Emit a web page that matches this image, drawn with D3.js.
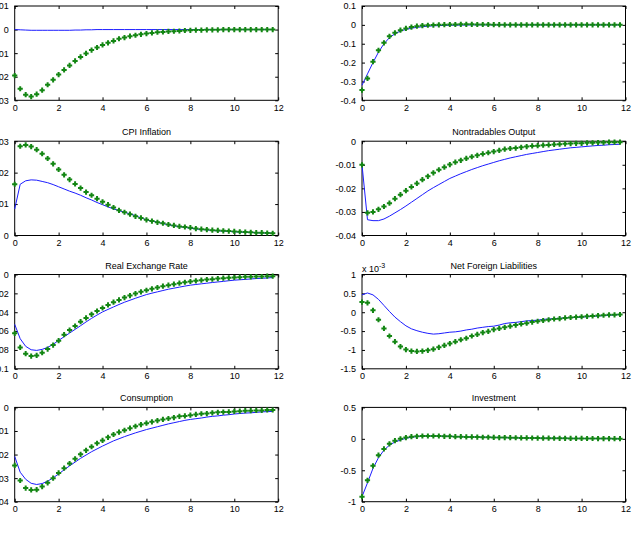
<!DOCTYPE html>
<html>
<head>
<meta charset="utf-8">
<script src="https://cdn.jsdelivr.net/npm/d3@7"></script>
<style>
  body { margin: 0; background: #fff; }
  svg { display: block; font-family: "Liberation Sans", Arial, sans-serif; }
</style>
</head>
<body>
<svg id="chart" width="636" height="535"></svg>
<script>
// quarters after the shock (x axis), step 0.25
var quarters = d3.range(48).map(function(i) { return i * 0.25; });
var xTicks = [0, 2, 4, 6, 8, 10, 12];

// top-left panel (title cut off in the original)
var panel1Blue = [0, -0.0001, -0.0002, -0.0003, -0.0003, -0.0003, -0.0003, -0.0003, -0.0003, -0.0003, -0.0003, -0.0002,
  -0.0002, -0.0001, -0.0001, 0, 0, 0, 0, 0, 0, 0, 0, 0,
  0, 0, 0, 0, 0, 0, 0, 0, 0, 0, 0, 0, 0, 0, 0, 0, 0, 0, 0, 0, 0, 0, 0, 0];
var panel1Green = [-0.0195, -0.0251, -0.0276, -0.0284, -0.0274, -0.0257, -0.0234, -0.0213, -0.0191, -0.0171, -0.0152, -0.0133,
  -0.0116, -0.0101, -0.0087, -0.0076, -0.0065, -0.0056, -0.0048, -0.0039, -0.0034, -0.0028, -0.0024, -0.0020,
  -0.0017, -0.0014, -0.0011, -0.0010, -0.0008, -0.0007, -0.0006, -0.0004, -0.0003, -0.0002, -0.0002, -0.0001,
  -0.0001, -0.0001, 0, 0, 0, 0, 0, 0, 0, 0, 0, 0];

// top-right panel (title cut off in the original)
var panel2Blue = [-0.32, -0.26, -0.20, -0.145, -0.10, -0.068, -0.047, -0.033, -0.024, -0.018, -0.013, -0.010,
  -0.007, -0.005, -0.004, -0.003, -0.002, -0.0015, -0.001, -0.001, 0, 0, 0, 0,
  0, 0, 0, 0, 0, 0, 0, 0, 0, 0, 0, 0, 0, 0, 0, 0, 0, 0, 0, 0, 0, 0, 0, 0];
var panel2Green = [-0.346, -0.284, -0.195, -0.135, -0.095, -0.061, -0.042, -0.028, -0.019, -0.012, -0.007, -0.004,
  -0.002, -0.001, 0, 0.001, 0.002, 0.002, 0.003, 0.003, 0.003, 0.002, 0.002, 0.002,
  0.001, 0.001, 0, 0, 0, 0, 0, 0, 0, 0, 0, 0, 0, 0, 0, 0, 0, 0, 0, 0, 0, 0, 0, 0];

// CPI Inflation
var cpiBlue = [0.0084, 0.0163, 0.0174, 0.0177, 0.0176, 0.0172, 0.0168, 0.0162, 0.0155, 0.0148, 0.0141, 0.0135,
  0.0128, 0.0120, 0.0113, 0.0105, 0.0098, 0.0091, 0.0085, 0.0079, 0.0074, 0.0069, 0.0063, 0.0056,
  0.0050, 0.0046, 0.0042, 0.0038, 0.0034, 0.0031, 0.0028, 0.0026, 0.0023, 0.0021, 0.0019, 0.0018,
  0.0016, 0.0015, 0.0014, 0.0013, 0.0012, 0.0011, 0.0010, 0.0010, 0.0009, 0.0008, 0.0008, 0.0007];
var cpiGreen = [0.0163, 0.0284, 0.0288, 0.0283, 0.0273, 0.0260, 0.0245, 0.0228, 0.0210, 0.0193, 0.0178, 0.0164,
  0.0151, 0.0138, 0.0128, 0.0117, 0.0107, 0.0098, 0.0089, 0.0080, 0.0074, 0.0068, 0.0061, 0.0056,
  0.0050, 0.0046, 0.0042, 0.0039, 0.0035, 0.0032, 0.0029, 0.0027, 0.0025, 0.0022, 0.0020, 0.0019,
  0.0017, 0.0016, 0.0015, 0.0014, 0.0013, 0.0012, 0.0011, 0.0010, 0.0009, 0.0009, 0.0008, 0.0007];

// Nontradables Output
var nontradBlue = [-0.0100, -0.0333, -0.0337, -0.0337, -0.0330, -0.0318, -0.0304, -0.0290, -0.0275, -0.0259, -0.0243, -0.0227,
  -0.0211, -0.0197, -0.0184, -0.0171, -0.0158, -0.0148, -0.0138, -0.0129, -0.0120, -0.0112, -0.0104, -0.0097,
  -0.0090, -0.0083, -0.0077, -0.0071, -0.0066, -0.0061, -0.0056, -0.0052, -0.0048, -0.0044, -0.0040, -0.0037,
  -0.0034, -0.0031, -0.0028, -0.0026, -0.0024, -0.0022, -0.0020, -0.0018, -0.0017, -0.0015, -0.0014, -0.0013];
var nontradGreen = [-0.0100, -0.0304, -0.0300, -0.0289, -0.0277, -0.0263, -0.0244, -0.0227, -0.0210, -0.0194, -0.0179, -0.0163,
  -0.0149, -0.0134, -0.0121, -0.0110, -0.0099, -0.0089, -0.0081, -0.0073, -0.0066, -0.0060, -0.0054, -0.0049,
  -0.0044, -0.0039, -0.0034, -0.0031, -0.0029, -0.0026, -0.0023, -0.0020, -0.0019, -0.0017, -0.0016, -0.0014,
  -0.0013, -0.0011, -0.0010, -0.0009, -0.0009, -0.0007, -0.0007, -0.0006, -0.0006, -0.0004, -0.0004, -0.0004];

// Real Exchange Rate
var rerBlue = [-0.0528, -0.0681, -0.0762, -0.0798, -0.0805, -0.0794, -0.0773, -0.0741, -0.0699, -0.0660, -0.0621, -0.0582,
  -0.0543, -0.0503, -0.0465, -0.0430, -0.0397, -0.0370, -0.0344, -0.0318, -0.0294, -0.0273, -0.0252, -0.0232,
  -0.0213, -0.0198, -0.0184, -0.0170, -0.0156, -0.0145, -0.0134, -0.0123, -0.0113, -0.0106, -0.0099, -0.0092,
  -0.0085, -0.0079, -0.0073, -0.0066, -0.0060, -0.0056, -0.0052, -0.0047, -0.0043, -0.0040, -0.0037, -0.0032];
var rerGreen = [-0.0624, -0.0773, -0.0840, -0.0865, -0.0858, -0.0830, -0.0791, -0.0748, -0.0702, -0.0638, -0.0589, -0.0546,
  -0.0500, -0.0461, -0.0422, -0.0387, -0.0355, -0.0323, -0.0294, -0.0270, -0.0245, -0.0223, -0.0202, -0.0184,
  -0.0167, -0.0152, -0.0138, -0.0124, -0.0113, -0.0103, -0.0092, -0.0082, -0.0074, -0.0067, -0.0060, -0.0053,
  -0.0050, -0.0043, -0.0039, -0.0035, -0.0032, -0.0028, -0.0025, -0.0025, -0.0021, -0.0021, -0.0018, -0.0018];

// Net Foreign Liabilities, in units of 1e-3
var nflBlue = [0.46, 0.51, 0.46, 0.34, 0.18, 0.02, -0.13, -0.25, -0.36, -0.44, -0.49, -0.53,
  -0.56, -0.58, -0.57, -0.55, -0.53, -0.52, -0.50, -0.47, -0.45, -0.42, -0.40, -0.38,
  -0.37, -0.34, -0.30, -0.28, -0.27, -0.25, -0.23, -0.22, -0.21, -0.19, -0.18, -0.17,
  -0.16, -0.15, -0.14, -0.14, -0.13, -0.12, -0.11, -0.10, -0.09, -0.08, -0.07, -0.06];
var nflGreen = [0.27, 0.25, 0.05, -0.20, -0.43, -0.63, -0.78, -0.91, -0.99, -1.03, -1.04, -1.03,
  -1.01, -0.98, -0.93, -0.88, -0.83, -0.78, -0.73, -0.69, -0.63, -0.59, -0.54, -0.51,
  -0.46, -0.43, -0.40, -0.37, -0.34, -0.31, -0.29, -0.26, -0.24, -0.22, -0.20, -0.18,
  -0.17, -0.15, -0.14, -0.13, -0.12, -0.11, -0.10, -0.09, -0.08, -0.07, -0.07, -0.06];

// Consumption
var consBlue = [-0.0208, -0.0275, -0.0305, -0.0322, -0.0327, -0.0323, -0.0313, -0.0299, -0.0282, -0.0265, -0.0248, -0.0232,
  -0.0216, -0.0202, -0.0188, -0.0176, -0.0164, -0.0153, -0.0142, -0.0133, -0.0124, -0.0116, -0.0108, -0.0101,
  -0.0094, -0.0088, -0.0082, -0.0076, -0.0070, -0.0065, -0.0060, -0.0055, -0.0051, -0.0048, -0.0045, -0.0041,
  -0.0038, -0.0036, -0.0033, -0.0031, -0.0028, -0.0026, -0.0024, -0.0023, -0.0021, -0.0019, -0.0018, -0.0017];
var consGreen = [-0.0246, -0.0310, -0.0342, -0.0350, -0.0349, -0.0336, -0.0320, -0.0300, -0.0278, -0.0258, -0.0238, -0.0218,
  -0.0199, -0.0182, -0.0167, -0.0152, -0.0140, -0.0127, -0.0115, -0.0105, -0.0097, -0.0088, -0.0080, -0.0073,
  -0.0067, -0.0061, -0.0056, -0.0051, -0.0047, -0.0043, -0.0038, -0.0036, -0.0033, -0.0030, -0.0027, -0.0026,
  -0.0023, -0.0021, -0.0020, -0.0019, -0.0017, -0.0016, -0.0014, -0.0014, -0.0013, -0.0013, -0.0011, -0.0011];

// Investment
var invBlue = [-0.92, -0.70, -0.47, -0.30, -0.18, -0.10, -0.05, -0.02, 0.01, 0.025, 0.035, 0.045,
  0.045, 0.045, 0.045, 0.04, 0.04, 0.035, 0.035, 0.03, 0.03, 0.028, 0.025, 0.025,
  0.022, 0.02, 0.02, 0.018, 0.017, 0.015, 0.014, 0.013, 0.012, 0.011, 0.010, 0.009,
  0.008, 0.008, 0.007, 0.006, 0.006, 0.005, 0.005, 0.004, 0.004, 0.004, 0.003, 0.003];
var invGreen = [-0.92, -0.66, -0.43, -0.26, -0.16, -0.08, -0.03, 0.00, 0.02, 0.035, 0.04, 0.045,
  0.045, 0.045, 0.045, 0.04, 0.04, 0.035, 0.035, 0.03, 0.03, 0.028, 0.025, 0.025,
  0.022, 0.02, 0.02, 0.018, 0.017, 0.015, 0.014, 0.013, 0.012, 0.011, 0.010, 0.009,
  0.008, 0.008, 0.007, 0.006, 0.006, 0.005, 0.005, 0.004, 0.004, 0.004, 0.003, 0.003];

// y tick values per panel
var yTicks1 = [0.01, 0, -0.01, -0.02, -0.03];
var yTicks2 = [0.1, 0, -0.1, -0.2, -0.3, -0.4];
var yTicksCpi = [0, 0.01, 0.02, 0.03];
var yTicksNontrad = [0, -0.01, -0.02, -0.03, -0.04];
var yTicksRer = [0, -0.02, -0.04, -0.06, -0.08, -0.1];
var yTicksNfl = [1, 0.5, 0, -0.5, -1, -1.5];
var yTicksCons = [0, -0.01, -0.02, -0.03, -0.04];
var yTicksInv = [0.5, 0, -0.5, -1];

var panels = [
  { title: "", blue: panel1Blue, green: panel1Green, ticks: yTicks1 },
  { title: "", blue: panel2Blue, green: panel2Green, ticks: yTicks2 },
  { title: "CPI Inflation", blue: cpiBlue, green: cpiGreen, ticks: yTicksCpi },
  { title: "Nontradables Output", blue: nontradBlue, green: nontradGreen, ticks: yTicksNontrad },
  { title: "Real Exchange Rate", blue: rerBlue, green: rerGreen, ticks: yTicksRer },
  { title: "Net Foreign Liabilities", blue: nflBlue, green: nflGreen, ticks: yTicksNfl, exponent: "-3" },
  { title: "Consumption", blue: consBlue, green: consGreen, ticks: yTicksCons },
  { title: "Investment", blue: invBlue, green: invGreen, ticks: yTicksInv }
];

var svg = d3.select("#chart");
var colLeft = [14.7, 362];
var axW = 263.5;
var rowTop = [6, 141.2, 274.5, 407.4];
var axH = 94.3;
var tickLen = 3;
var blueColor = "#1c1cff";
var greenColor = "#138613";

panels.forEach(function(p, i) {
  var left = colLeft[i % 2];
  var top = rowTop[Math.floor(i / 2)];
  var g = svg.append("g").attr("transform", "translate(" + left + "," + top + ")");

  var x = d3.scaleLinear().domain([0, 12]).range([0, axW]);
  var y = d3.scaleLinear().domain(d3.extent(p.ticks)).range([axH, 0]);

  // inward ticks on all four sides, like MATLAB
  g.append("g").attr("transform", "translate(0," + axH + ")")
    .call(d3.axisBottom(x).tickValues(xTicks).tickSize(-tickLen).tickPadding(4).tickFormat(d3.format("d")));
  g.append("g")
    .call(d3.axisTop(x).tickValues(xTicks).tickSize(-tickLen).tickFormat(""));
  g.append("g")
    .call(d3.axisLeft(y).tickValues(p.ticks).tickSize(-tickLen).tickPadding(6).tickFormat(function(d) { return String(+d.toFixed(4)); }));
  g.append("g").attr("transform", "translate(" + axW + ",0)")
    .call(d3.axisRight(y).tickValues(p.ticks).tickSize(-tickLen).tickFormat(""));

  g.selectAll(".domain").remove();
  g.append("rect").attr("width", axW).attr("height", axH)
    .attr("fill", "none").attr("stroke", "#000").attr("stroke-width", 1);
  g.selectAll(".tick line").attr("stroke", "#000");
  g.selectAll(".tick text").attr("font-size", 9).attr("fill", "#000")
    .attr("font-family", "'Liberation Sans', Arial, sans-serif");

  var line = d3.line()
    .x(function(d, k) { return x(quarters[k]); })
    .y(function(d) { return y(d); });

  g.append("path").datum(p.blue)
    .attr("d", line)
    .attr("fill", "none")
    .attr("stroke", blueColor)
    .attr("stroke-width", 1);

  var arm = 2.6;
  g.selectAll(".marker").data(p.green).enter().append("path")
    .attr("class", "marker")
    .attr("d", function(d, k) {
      var cx = x(quarters[k]), cy = y(d);
      return "M" + (cx - arm) + "," + cy + "H" + (cx + arm) + "M" + cx + "," + (cy - arm) + "V" + (cy + arm);
    })
    .attr("stroke", greenColor)
    .attr("stroke-width", 2)
    .attr("fill", "none");

  if (p.title) {
    g.append("text")
      .attr("x", axW / 2).attr("y", -6)
      .attr("text-anchor", "middle")
      .attr("font-size", 9)
      .text(p.title);
  }

  if (p.exponent) {
    var t = g.append("text").attr("x", 0).attr("y", -3).attr("font-size", 9);
    t.append("tspan").text("x 10");
    t.append("tspan").attr("dy", -4).attr("font-size", 7).text(p.exponent);
  }
});
</script>
</body>
</html>
